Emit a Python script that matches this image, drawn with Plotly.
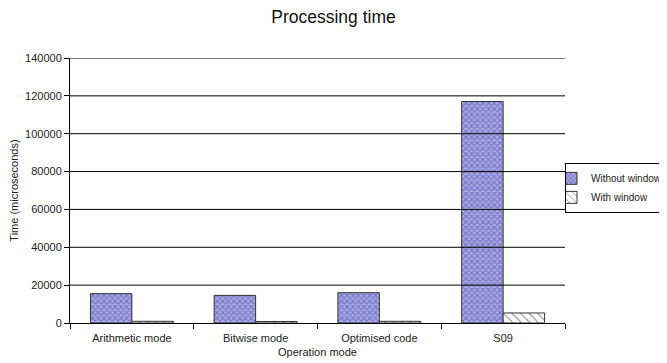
import plotly.graph_objects as go

categories = ["Arithmetic mode", "Bitwise mode", "Optimised code", "S09"]
without_window = [15500, 14600, 16000, 117000]
with_window = [900, 800, 900, 5300]
y_ticks = [0, 20000, 40000, 60000, 80000, 100000, 120000, 140000]

fig = go.Figure()
fig.add_trace(go.Bar(
    x=categories, y=without_window, name="Without window",
    marker=dict(color="#9a9ae6", line=dict(color="#333333", width=1),
                pattern=dict(shape="x", fgcolor="#4444a0", bgcolor="#ababe8", size=4, solidity=0.5)),
))
fig.add_trace(go.Bar(
    x=categories, y=with_window, name="With window",
    marker=dict(color="white", line=dict(color="#333333", width=1),
                pattern=dict(shape="\\", fgcolor="#333333", bgcolor="white", size=6, solidity=0.2)),
))

for v in y_ticks[1:]:
    fig.add_shape(type="line", xref="paper", x0=0, x1=1, yref="y", y0=v, y1=v,
                  line=dict(color="black", width=1), layer="above")

fig.update_layout(
    width=667, height=363,
    margin=dict(l=62, r=110, t=50, b=48, autoexpand=False),
    paper_bgcolor="white", plot_bgcolor="white",
    font=dict(family="Liberation Sans, Arial, sans-serif", size=11, color="#222222"),
    title=dict(text="Processing time", x=0.488, xanchor="center", y=0.975, yanchor="middle",
               font=dict(size=17.5, color="#111111")),
    barmode="group", bargap=0.33, bargroupgap=0,
    showlegend=True,
    legend=dict(x=1.0, xanchor="left", y=0.51, yanchor="middle",
                bordercolor="black", borderwidth=1, bgcolor="white",
                font=dict(size=10), tracegroupgap=0, itemwidth=30, indentation=-15),
    xaxis=dict(title=dict(text="Operation mode", font=dict(size=11), standoff=5),
               automargin=False,
               showline=True, linecolor="black", linewidth=1,
               ticks="outside", tickson="boundaries", ticklen=5, tickcolor="black",
               ticklabelstandoff=5,
               showgrid=False, tickfont=dict(size=11)),
    yaxis=dict(title=dict(text="Time (microseconds)", font=dict(size=11), standoff=10),
               automargin=False,
               range=[0, 140000], tickvals=y_ticks, ticktext=[str(v) for v in y_ticks],
               showline=True, linecolor="black", linewidth=1,
               ticks="outside", ticklen=5, tickcolor="black",
               showgrid=False, zeroline=False, tickfont=dict(size=11)),
)

fig.write_html("out.html")
